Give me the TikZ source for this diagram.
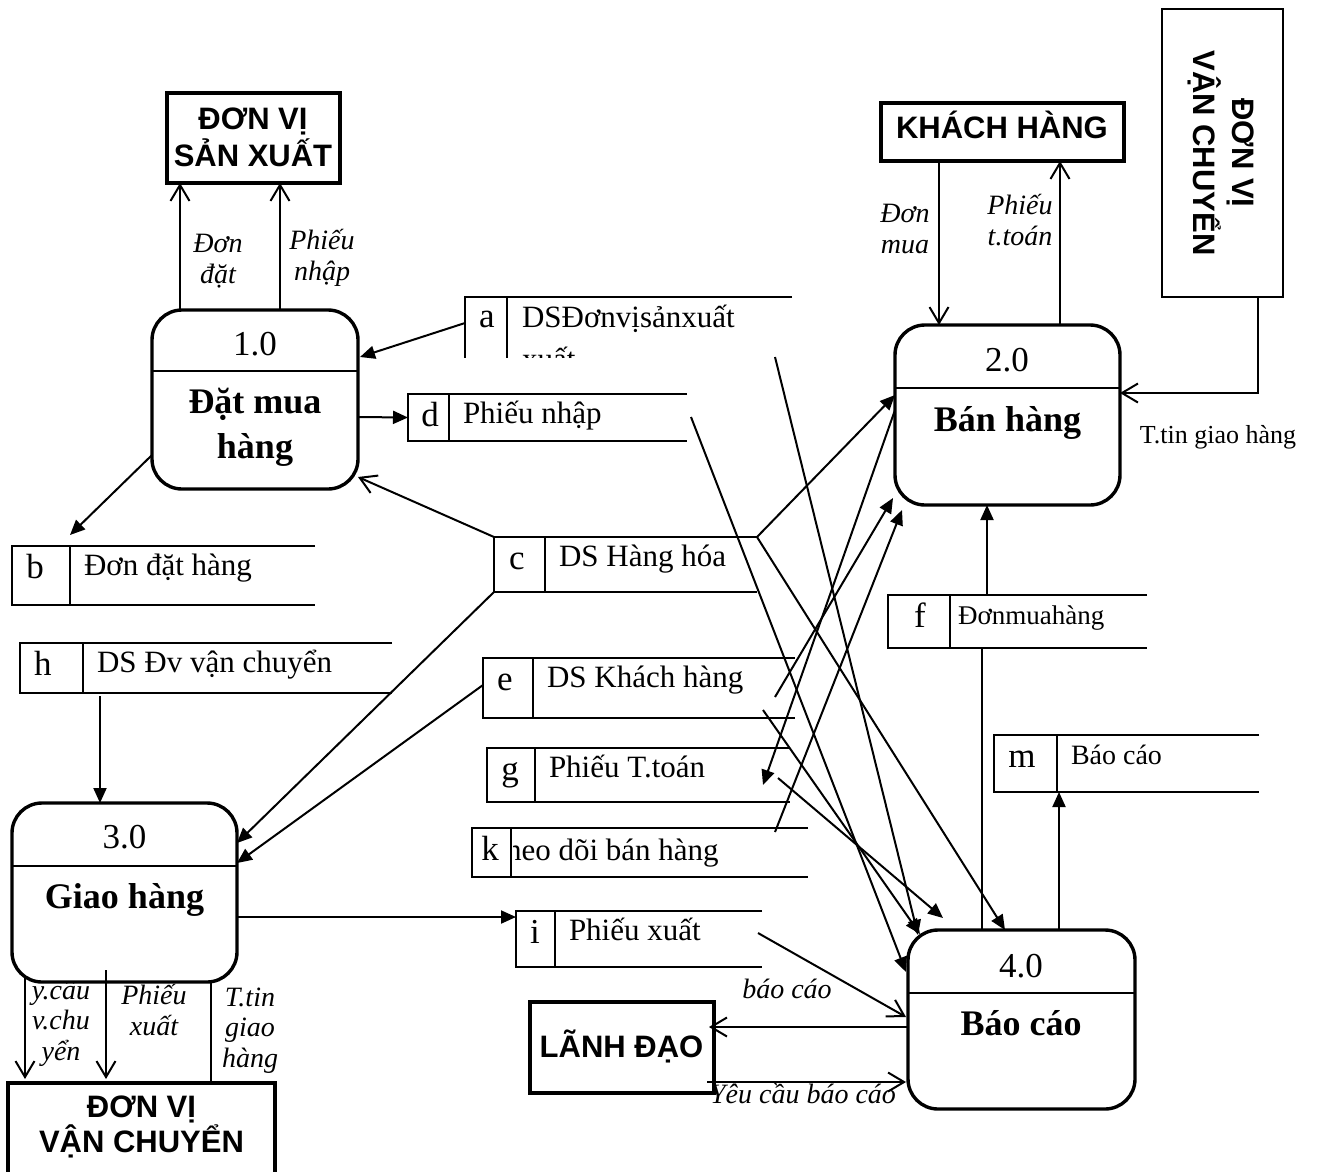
\documentclass[tikz,border=0pt]{standalone}
\usepackage{fontspec}
\setmainfont{Liberation Serif}
\newfontfamily\entfont{Liberation Sans}
\usetikzlibrary{arrows.meta,calc}

\newcommand\fsz[2]{\fontsize{#1}{#2}\selectfont}

% data store: name, x, y (top), divider offset, width, height, letter x offset, letter, text
\newcommand\dstore[9]{%
  \node[minimum width=#5, minimum height=#6, anchor=north west] (#1) at (#2,#3) {};
  \draw[storeline] (#1.north east) -- (#1.north west) -- (#1.south west) -- (#1.south east);
  \draw[storeline] ($(#1.north west)+(#4,0)$) -- ($(#1.south west)+(#4,0)$);
  \node[storeletter] (#1-l) at ($(#1.north west)+(#7,32)$) {#8};
  \node[storetext] (#1-t) at ($(#1.north west)+(#4,29)+(14,0)$) {#9};
}

\begin{document}
\begin{tikzpicture}[x=1pt,y=-1pt,
  every node/.style={inner sep=0pt, outer sep=0pt},
  proc/.style={draw, line width=3.4pt, rounded corners=30pt, fill=white},
  divider/.style={line width=2.2pt},
  entbox/.style={draw, line width=3.4pt, fill=white},
  enttext/.style={font=\entfont\bfseries\fsz{31}{37}, align=center},
  pnum/.style={font=\fsz{35}{40}, anchor=base},
  pname/.style={font=\bfseries\fsz{36}{45}, align=center, anchor=base},
  storeline/.style={line width=2pt},
  storeletter/.style={font=\fsz{35}{40}, anchor=base},
  storetext/.style={font=\fsz{31}{36}, anchor=base west},
  flowlabel/.style={font=\itshape\fsz{28}{30.5}, align=center, anchor=base},
  flow/.style={line width=2pt},
  fa/.style={flow, -{Triangle[length=15pt,width=13pt]}},
  oa/.style={flow, -{Straight Barb[length=16pt,width=19pt]}},
]
\useasboundingbox (0,0) rectangle (1317,1171);
\begin{scope}
\clip (0,0) rectangle (1317,1171);

% ---------------- data stores ----------------
\begin{scope}
  \clip (400,280) rectangle (820,357);
  \node[minimum width=327, minimum height=80, anchor=north west] (sa) at (465,297) {};
  \draw[storeline] (sa.north east) -- (sa.north west) -- (sa.south west);
  \draw[storeline] ($(sa.north west)+(42,0)$) -- ($(sa.south west)+(42,0)$);
  \node[storeletter] (sa-l) at ($(sa.north west)+(22,30)$) {a};
  \node[storetext] (sa-t) at ($(sa.north west)+(57,30)$) {DSĐơnvịsảnxuất};
  \node[storetext] (sa-t2) at ($(sa.north west)+(57,72)$) {xuất};
\end{scope}

\dstore{sb}{12}{546}{58}{303}{59}{23}{b}{Đơn đặt hàng}
\dstore{sh}{20}{643}{63}{372}{50}{23}{h}{DS Đv vận chuyển}
\dstore{sc}{494}{537}{51}{263}{55}{23}{c}{DS Hàng hóa}
\dstore{sd}{408}{394}{41}{279}{47}{22}{d}{Phiếu nhập}
\dstore{se}{483}{658}{50}{312}{60}{22}{e}{DS Khách hàng}
\dstore{sg}{487}{748}{48}{303}{54}{23}{g}{Phiếu T.toán}
\dstore{si}{516}{911}{39}{246}{56}{19}{i}{Phiếu xuất}
\dstore{sf}{888}{595}{62}{259}{53}{32}{f}{\hspace*{-6pt}\fsz{27}{30}Đơnmuahàng}
\dstore{sm}{994}{735}{63}{265}{57}{28}{m}{\fsz{28}{32}Báo cáo}

% store k: the first letter of its text is cut by the divider
\node[minimum width=336, minimum height=49, anchor=north west] (sk) at (472,828) {};
\draw[storeline] (sk.north east) -- (sk.north west) -- (sk.south west) -- (sk.south east);
\draw[storeline] ($(sk.north west)+(39,0)$) -- ($(sk.south west)+(39,0)$);
\node[storeletter] (sk-l) at ($(sk.north west)+(18,32)$) {k};
\begin{scope}
  \clip ($(sk.north west)+(41,-10)$) rectangle ($(sk.south east)+(0,10)$);
  \node[storetext] (sk-t) at ($(sk.north west)+(34,32)$) {heo dõi bán hàng};
\end{scope}

% ---------------- flow labels (placed at the baseline of their last line) ----------------
\node[flowlabel] (l-dondat) at (218,283) {Đơn\\đặt};
\node[flowlabel] (l-pnhap) at (322,280) {Phiếu\\nhập};
\node[flowlabel] (l-donmua) at (905,253) {Đơn\\mua};
\node[flowlabel] (l-pttoan) at (1020,245) {Phiếu\\t.toán};
\node[flowlabel] (l-ycvc) at (61,1060) {y.cầu\\v.chu\\yển};
\node[flowlabel] (l-pxuat) at (154,1035) {Phiếu\\xuất};
\node[flowlabel] (l-ttin3) at (250,1067) {T.tin\\giao\\hàng};
\node[flowlabel] (l-baocao) at (787,998) {báo cáo};
\node[flowlabel] (l-ycbc) at (803,1103) {Yêu cầu báo cáo};
\node[font=\fsz{26}{30}, anchor=base] (l-ttin2) at (1218,443) {T.tin giao hàng};

% ---------------- processes ----------------
\node[proc, minimum width=206, minimum height=179] (p1) at (255,399.5) {};
\draw[divider] ($(p1.north west)+(0,61)$) -- ($(p1.north east)+(0,61)$);
\node[pnum] (p1-n) at (255,355) {1.0};
\node[pname] (p1-t) at (255,458) {Đặt mua\\hàng};

\node[proc, minimum width=225, minimum height=180] (p2) at (1007.5,415) {};
\draw[divider] ($(p2.north west)+(0,63)$) -- ($(p2.north east)+(0,63)$);
\node[pnum] (p2-n) at (1007,371) {2.0};
\node[pname] (p2-t) at (1007.5,431) {Bán hàng};

\node[proc, minimum width=225, minimum height=179] (p3) at (124.5,892.5) {};
\draw[divider] ($(p3.north west)+(0,63)$) -- ($(p3.north east)+(0,63)$);
\node[pnum] (p3-n) at (124.5,848) {3.0};
\node[pname] (p3-t) at (124.5,908) {Giao hàng};

\node[proc, minimum width=227, minimum height=179] (p4) at (1021.5,1019.5) {};
\draw[divider] ($(p4.north west)+(0,63)$) -- ($(p4.north east)+(0,63)$);
\node[pnum] (p4-n) at (1021,977) {4.0};
\node[pname] (p4-t) at (1021,1035) {Báo cáo};

% ---------------- external entities ----------------
\node[entbox, minimum width=173, minimum height=90] (dvsx) at (253.5,138) {};
\node[enttext, anchor=base] (dvsx-t) at (253,166) {ĐƠN VỊ\\SẢN XUẤT};

\node[entbox, minimum width=243, minimum height=58] (kh) at (1002.5,132) {};
\node[enttext, anchor=base] (kh-t) at (1002,138) {KHÁCH HÀNG};

\node[entbox, line width=2pt, minimum width=121, minimum height=288] (dvvc1) at (1222.5,153) {};
\node[enttext, font=\entfont\bfseries\fsz{31}{39}, rotate=-90] (dvvc1-t) at (1221,153) {ĐƠN VỊ\\VẬN CHUYỂN};

\node[entbox, minimum width=267, minimum height=130, anchor=north west] (dvvc2) at (8,1083) {};
\node[enttext, font=\entfont\bfseries\fsz{31}{35}, anchor=base] (dvvc2-t) at (141.5,1152) {ĐƠN VỊ\\VẬN CHUYỂN};

\node[entbox, minimum width=184, minimum height=91] (ld) at (622,1047.5) {};
\node[enttext, anchor=base] (ld-t) at (621.5,1057) {LÃNH ĐẠO};

% ---------------- data flows ----------------
\draw[oa] ($(p1.north west)+(28,0)$) -- ($(dvsx.south west)+(13,0)$);
\draw[oa] ($(p1.north west)+(128,0)$) -- ($(dvsx.south west)+(113,0)$);
\draw[fa] ($(sa.north west)+(0,26)$) -- ($(p1.north east)+(2,47)$);
\draw[fa] ($(p1.north east)+(0,107)$) -- (sd.west);
\draw[oa] (sc.north west) -- ($(p1.south east)+(0,-12)$);
\draw[fa] ($(p1.south west)+(0,-34)$) -- ($(sb.north west)+(58,-11)$);
\draw[fa] ($(sh.south west)+(80,3)$) -- ($(p3.north west)+(88,0)$);
\draw[fa] (sc.south west) -- ($(p3.north east)+(0,40)$);
\draw[fa] ($(se.north west)+(0,27)$) -- ($(p3.north east)+(0,60)$);
\draw[fa] ($(p3.north east)+(0,114)$) -- ($(si.north west)+(0,6)$);
\draw[oa] ($(p3.south west)+(13,-5)$) -- ($(dvvc2.north west)+(17,-4)$);
\draw[oa] ($(p3.south west)+(94,-12)$) -- ($(dvvc2.north west)+(98,-4)$);
\draw[flow] ($(dvvc2.north west)+(203,0)$) -- ($(p3.south west)+(199,0)$);
\draw[oa] ($(si.north west)+(242,22)$) -- ($(p4.north west)+(-2,87)$);
\draw[oa] ($(p4.north west)+(0,97)$) -- ($(ld.north east)+(-5,25)$);
\draw[oa] ($(ld.south east)+(-7,-11)$) -- ($(p4.north west)+(-2,152)$);
\draw[oa] ($(kh.south west)+(58,0)$) -- ($(p2.north west)+(44,0)$);
\draw[oa] ($(p2.north west)+(165,0)$) -- ($(kh.south west)+(179,0)$);
\draw[oa] ($(dvvc1.south west)+(96,0)$) |- ($(p2.north east)+(0,68)$);
\draw[fa] ($(sf.north west)+(99,0)$) -- ($(p2.south west)+(92,0)$);
\draw[flow] ($(sf.south west)+(94,0)$) -- ($(p4.north west)+(74,0)$);
\draw[fa] ($(p4.north west)+(151,0)$) -- ($(sm.south west)+(65,0)$);

% crossing flows between the stores and processes 2.0 / 4.0
\draw[fa] ($(sa.north west)+(310,60)$) -- ($(p4.north west)+(10,5)$);
\draw[fa] ($(sd.north west)+(283,23)$) -- ($(p4.north west)+(-2,42)$);
\draw[fa] (sc.north east) -- ($(p4.north west)+(97,0)$);
\draw[fa] ($(se.north west)+(280,52)$) -- ($(p4.north west)+(12,4)$);
\draw[fa] ($(sg.north west)+(291,30)$) -- ($(p4.north west)+(35,-12)$);
\draw[fa] (sc.north east) -- ($(p2.north west)+(0,70)$);
\draw[fa] ($(se.north west)+(292,39)$) -- ($(p2.south west)+(-2,-7)$);
\draw[fa] ($(sk.north west)+(303,4)$) -- ($(p2.south west)+(7,5)$);
\draw[fa] ($(p2.north west)+(0,85)$) -- ($(sg.north west)+(276,37)$);

\end{scope}
\end{tikzpicture}
\end{document}
